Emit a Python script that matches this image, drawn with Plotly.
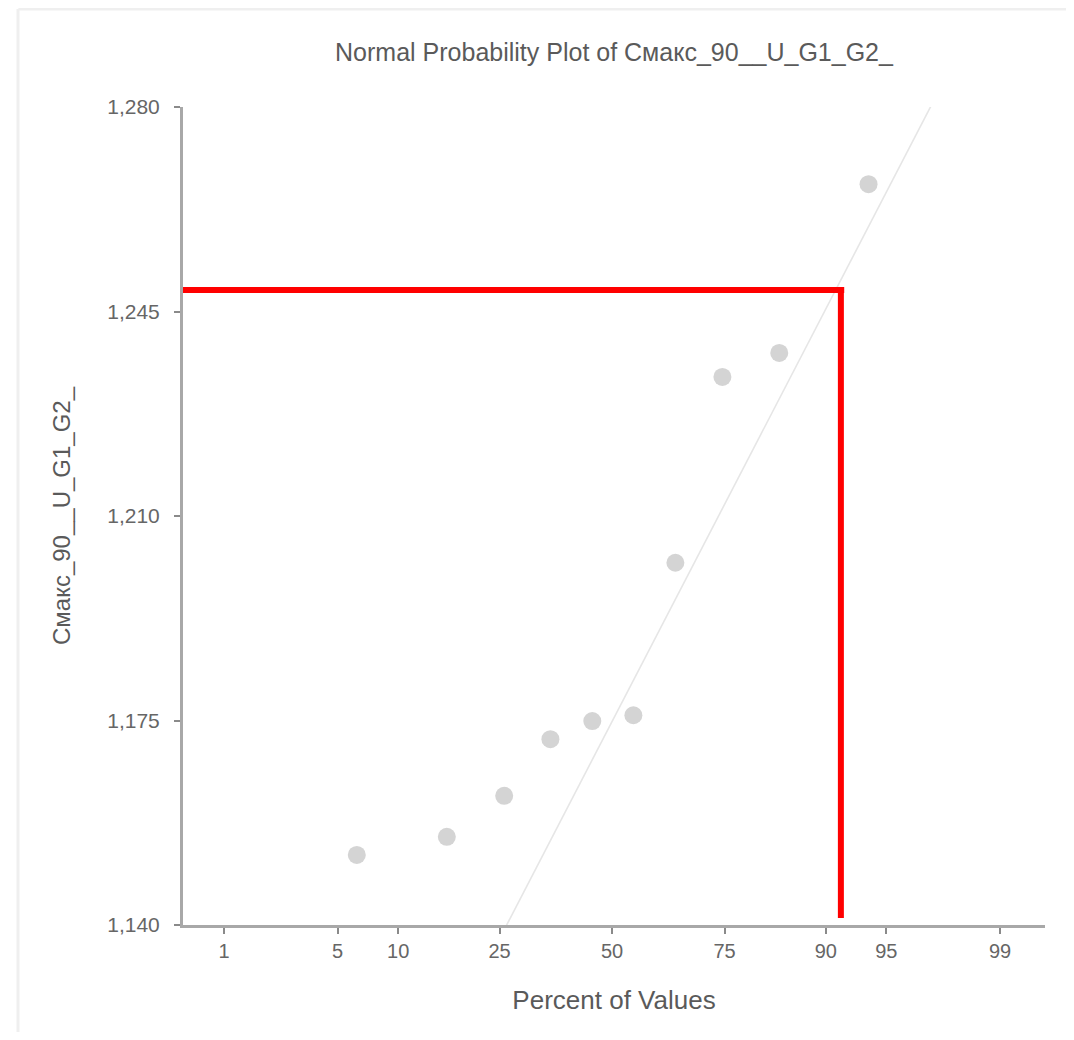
import plotly.graph_objects as go
from statistics import NormalDist

# ---- data ----
percent_positions = [6.3, 16.1, 25.9, 35.6, 45.3, 55.1, 64.8, 74.6, 84.2, 93.8]
values = [1.1520, 1.1551, 1.1621, 1.1718, 1.1749, 1.1759, 1.2020, 1.2338, 1.2379, 1.2668]

fit_mean = 1.1748
fit_sd = 0.0551

x_tick_percents = [1, 5, 10, 25, 50, 75, 90, 95, 99]
x_tick_labels = ["1", "5", "10", "25", "50", "75", "90", "95", "99"]
y_tick_values = [1.140, 1.175, 1.210, 1.245, 1.280]
y_tick_labels = ["1,140", "1,175", "1,210", "1,245", "1,280"]

guide_percent = 91.5
guide_value = 1.2487
guide_bottom = 1.1412

title_text = "Normal Probability Plot of Смакс_90__U_G1_G2_"
y_title = "Смакс_90__U_G1_G2_"
x_title = "Percent of Values"

# ---- transforms (probability scale) ----
nd = NormalDist()
def probit(p):
    return nd.inv_cdf(p / 100.0)

x_pts = [probit(p) for p in percent_positions]
x_ticks = [probit(p) for p in x_tick_percents]
x_range = [-2.572, 2.596]
y_range = [1.140, 1.280]

fit_z = [-3.5, 3.5]
fit_y = [fit_mean + fit_sd * z for z in fit_z]

W, H = 1058, 1024
L, T = 175, 99
PW, PH = 862, 818

fig = go.Figure()
fig.add_trace(go.Scatter(x=fit_z, y=fit_y, mode="lines",
                         line=dict(color="#e6e6e6", width=1.6),
                         hoverinfo="skip", showlegend=False))
fig.add_trace(go.Scatter(x=x_pts, y=values, mode="markers",
                         marker=dict(color="#d4d4d4", size=18, line=dict(width=0)),
                         showlegend=False))

gx = probit(guide_percent)
# red guide lines
fig.add_shape(type="line", xref="x", yref="y", x0=x_range[0], x1=gx + 0.02,
              y0=guide_value, y1=guide_value, line=dict(color="#ff0000", width=6))
fig.add_shape(type="line", xref="x", yref="y", x0=gx, x1=gx,
              y0=guide_value, y1=guide_bottom, line=dict(color="#ff0000", width=6))

# faint frame of the original panel
fig.add_shape(type="line", xref="paper", yref="paper", x0=-0.191, x1=1.06,
              y0=1.1198, y1=1.1198, line=dict(color="#efefef", width=3))
fig.add_shape(type="line", xref="paper", yref="paper", x0=-0.1914, x1=-0.1914,
              y0=1.1198, y1=-0.14, line=dict(color="#efefef", width=3))

fig.update_layout(
    width=W, height=H,
    margin=dict(l=L, r=W - L - PW, t=T, b=H - T - PH),
    paper_bgcolor="white", plot_bgcolor="white",
    font=dict(family="Liberation Sans, Arial, sans-serif", color="#5a5a5a"),
    title=dict(text=title_text, x=0.5, xref="paper", y=1 - 44 / H,
               yanchor="middle", font=dict(size=25, color="#5a5a5a")),
    showlegend=False,
)
fig.update_xaxes(range=x_range, tickvals=x_ticks, ticktext=x_tick_labels,
                 showgrid=False, zeroline=False, showline=True,
                 linecolor="#a8a8a8", linewidth=3, ticks="outside",
                 ticklen=6, tickwidth=2, tickcolor="#8a8a8a",
                 ticklabelstandoff=0,
                 tickfont=dict(size=20, color="#666666"),
                 title=dict(text=x_title, font=dict(size=26, color="#5a5a5a"), standoff=30))
fig.update_yaxes(range=y_range, tickvals=y_tick_values, ticktext=y_tick_labels,
                 showgrid=False, zeroline=False, showline=True,
                 linecolor="#a8a8a8", linewidth=3, ticks="outside",
                 ticklen=6, tickwidth=2, tickcolor="#8a8a8a",
                 ticklabelstandoff=10,
                 tickfont=dict(size=21, color="#666666"),
                 title=dict(text=y_title, font=dict(size=24, color="#5a5a5a"), standoff=30))

fig.write_html("out.html")
